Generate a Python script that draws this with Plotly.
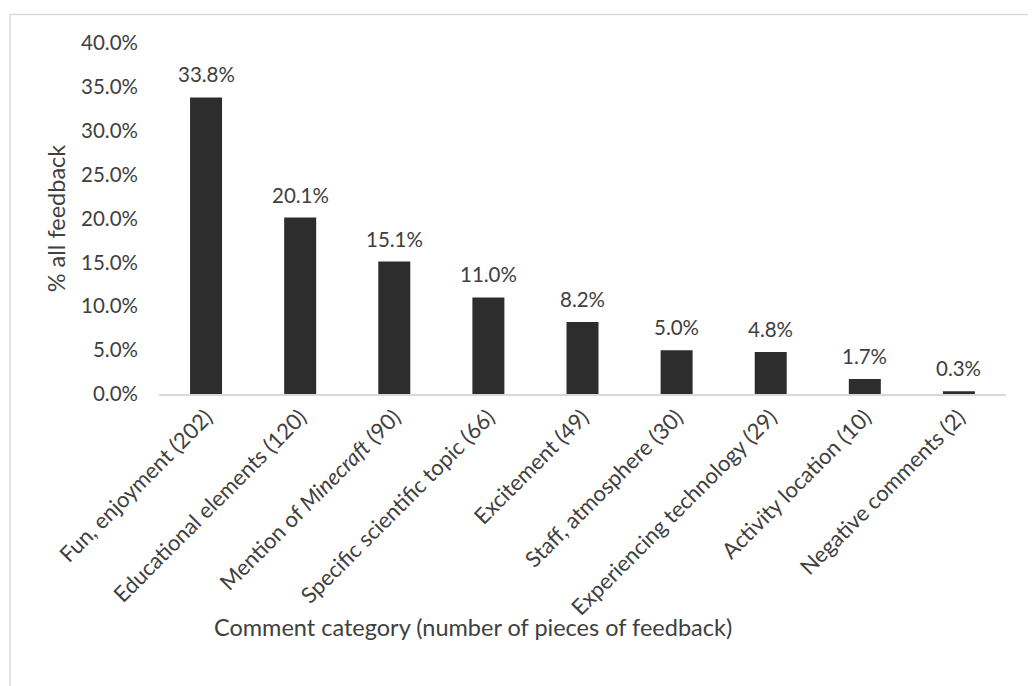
import plotly.graph_objects as go

categories = [
    "Fun, enjoyment (202)",
    "Educational elements (120)",
    "Mention of <i>Minecraft</i> (90)",
    "Specific scientific topic (66)",
    "Excitement (49)",
    "Staff, atmosphere (30)",
    "Experiencing technology (29)",
    "Activity location (10)",
    "Negative comments (2)",
]
values = [0.338, 0.201, 0.151, 0.110, 0.082, 0.050, 0.048, 0.017, 0.003]
labels = ["33.8%", "20.1%", "15.1%", "11.0%", "8.2%", "5.0%", "4.8%", "1.7%", "0.3%"]
y_title = "% all feedback"
x_title = "Comment category (number of pieces of feedback)"

FONT = "Lato, 'Open Sans', sans-serif"
TXT = "#404040"

OFF = 8  # browser body margin
W, H = 1036 - OFF, 686 - OFF
L, T = 159 - OFF, 43 - OFF
pw, ph = 847, 351
R = W - L - pw
B = H - T - ph

def px_x(page_x):
    return (page_x - OFF - L) / pw

def px_y(page_y):
    return (T + ph - (page_y - OFF)) / ph

fig = go.Figure()
fig.add_trace(go.Bar(
    x=categories, y=values,
    marker=dict(color="#2d2d2d", line=dict(width=0)),
    hoverinfo="skip",
))

annotations = []
for c, v, t in zip(categories, values, labels):
    annotations.append(dict(
        x=c, y=v, xref="x", yref="y", text=t, showarrow=False,
        yanchor="middle", yshift=23,
        font=dict(family=FONT, size=20.5, color=TXT),
    ))

annotations.append(dict(
    x=px_x(473), y=px_y(627), xref="paper", yref="paper",
    text=x_title, showarrow=False, xanchor="center", yanchor="middle",
    font=dict(family=FONT, size=23.5, color=TXT),
))

fig.update_layout(
    width=W, height=H,
    margin=dict(l=L, r=R, t=T, b=B, pad=0),
    paper_bgcolor="white", plot_bgcolor="white",
    bargap=0.66,
    showlegend=False,
    font=dict(family=FONT, size=20.5, color=TXT),
    annotations=annotations,
    shapes=[dict(
        type="rect", xref="paper", yref="paper",
        x0=px_x(10), x1=px_x(1060),
        y0=px_y(720), y1=px_y(14.5),
        line=dict(color="#d9d9d9", width=1.5), fillcolor="rgba(0,0,0,0)",
        layer="below",
    )],
    xaxis=dict(
        showline=True, linecolor="#d9d9d9", linewidth=1.5,
        showgrid=False, ticks="", tickangle=-45,
        tickfont=dict(family=FONT, size=22, color=TXT),
        fixedrange=True,
    ),
    yaxis=dict(
        range=[0, 0.40], dtick=0.05, tickformat=".1%",
        showgrid=False, zeroline=False, showline=False, ticks="",
        ticklabelstandoff=20,
        tickfont=dict(family=FONT, size=20.5, color=TXT),
        title=dict(text=y_title, font=dict(family=FONT, size=23.5, color=TXT), standoff=8),
        fixedrange=True,
    ),
)

fig.write_html("out.html")
